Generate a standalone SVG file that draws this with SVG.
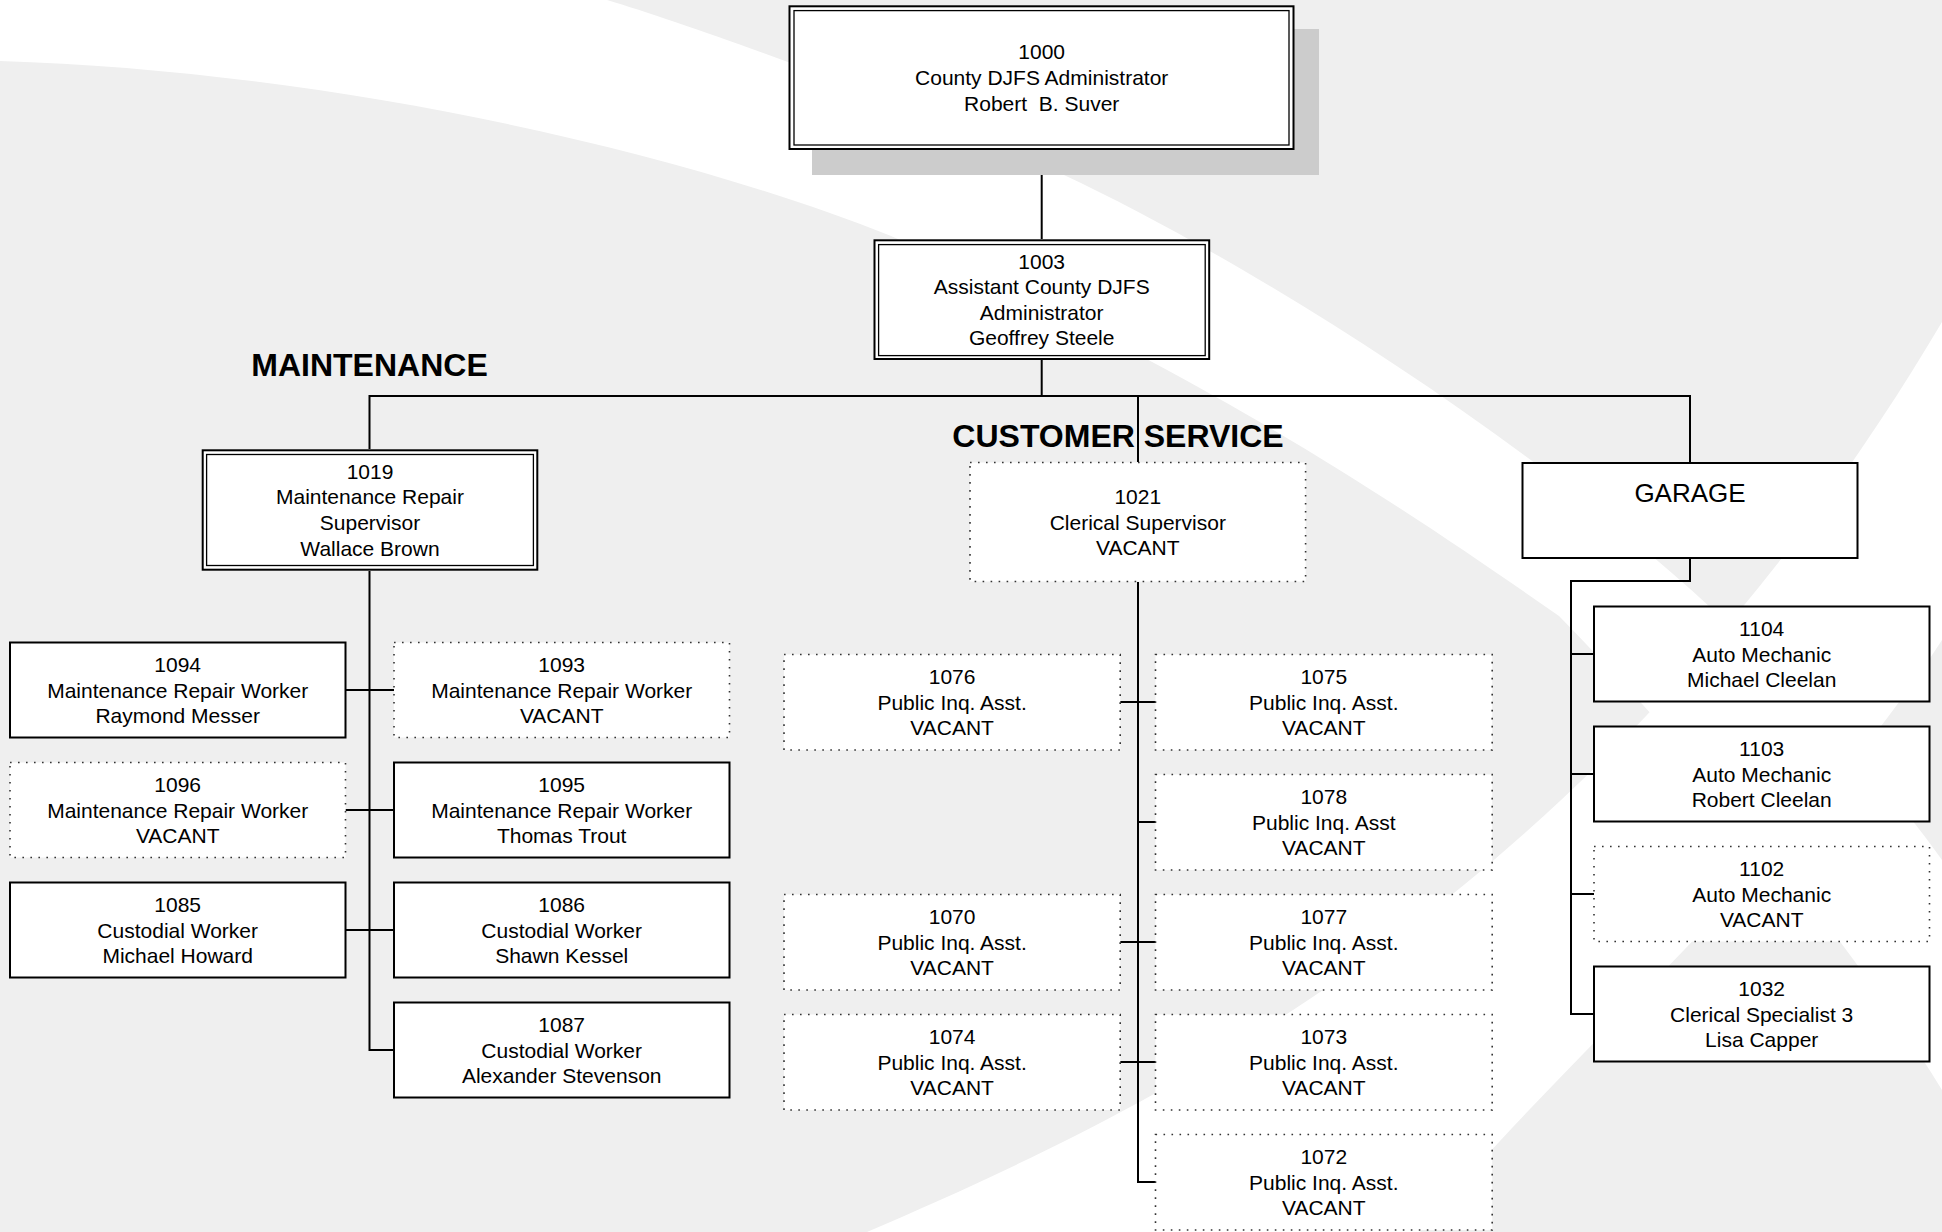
<svg xmlns="http://www.w3.org/2000/svg" width="1942" height="1232" viewBox="0 0 1942 1232">
<defs>
<style>
.bg{fill:#efefef}
.sw{fill:#ffffff}
.sh{fill:#cccccc}
.box{fill:#ffffff;stroke:#000;stroke-width:2}
.dot{fill:#ffffff;stroke:#333;stroke-width:1.6;stroke-dasharray:1.6 6.4}
.in{fill:none;stroke:#000;stroke-width:1.3}
.conn{fill:none;stroke:#000;stroke-width:2}
.t{font-family:"Liberation Sans",Arial,sans-serif;font-size:21px;text-anchor:middle;fill:#000}
.h{font-family:"Liberation Sans",Arial,sans-serif;font-size:32px;font-weight:bold;text-anchor:middle;fill:#000}
.g{font-family:"Liberation Sans",Arial,sans-serif;font-size:26px;text-anchor:middle;fill:#000}
</style>
</defs>
<g id="background">
<rect class="bg" x="0" y="0" width="1942" height="1232"/>
<path class="sw" d="M0,0 L607,0 C700,28 900,100 1064,175 C1250,262 1550,450 1745,640 C1830,722 1900,800 1942,860 L1942,1090 C1850,940 1700,760 1559,616 C1400,505 1200,370 891,236 C650,140 300,70 0,61 Z"/>
<path class="sw" d="M867,1232 C1150,1110 1600,900 1942,322 L1942,640 C1800,860 1560,1060 1420,1232 Z"/>
</g>
<g id="headings">
<text class="h" x="369.5" y="376">MAINTENANCE</text>
<text class="h" x="1118" y="447">CUSTOMER SERVICE</text>
</g>
<g id="connectors">
<path class="conn" d="M1041.7,150 V239"/>
<path class="conn" d="M1041.7,360 V396"/>
<path class="conn" d="M369.5,449 V396 H1690 V462"/>
<path class="conn" d="M1138,396 V462"/>
<path class="conn" d="M369.5,571 V1050 H394"/>
<path class="conn" d="M345.5,690 H394 M345.5,810 H394 M345.5,930 H394"/>
<path class="conn" d="M1138,582 V1182 H1155.5"/>
<path class="conn" d="M1120.2,702 H1155.5 M1138,822 H1155.5 M1120.2,942 H1155.5 M1120.2,1062 H1155.5"/>
<path class="conn" d="M1690,558 V581 H1571 V1014 H1594"/>
<path class="conn" d="M1571,654 H1594 M1571,774 H1594 M1571,894 H1594"/>
</g>
<g id="n1000">
<rect class="sh" x="812" y="29" width="507" height="146"/>
<rect class="box" x="789.5" y="6.3" width="504" height="142.7"/>
<rect class="in" x="794" y="10.6" width="495" height="134.4"/>
<text class="t"><tspan x="1041.7" y="59.4">1000</tspan><tspan x="1041.7" y="85">County DJFS Administrator</tspan><tspan x="1041.7" y="110.6">Robert&#160; B. Suver</tspan></text>
</g>
<g id="n1003">
<rect class="box" x="874.5" y="240.3" width="334.7" height="118.7"/>
<rect class="in" x="878.6" y="244.6" width="326.6" height="111"/>
<text class="t"><tspan x="1041.7" y="268.6">1003</tspan><tspan x="1041.7" y="294.2">Assistant County DJFS</tspan><tspan x="1041.7" y="319.8">Administrator</tspan><tspan x="1041.7" y="345.4">Geoffrey Steele</tspan></text>
</g>
<g id="n1019">
<rect class="box" x="202.7" y="450.3" width="334.6" height="119.4"/>
<rect class="in" x="206.6" y="454.5" width="326.8" height="111"/>
<text class="t"><tspan x="370" y="478.8">1019</tspan><tspan x="370" y="504.4">Maintenance Repair</tspan><tspan x="370" y="530">Supervisor</tspan><tspan x="370" y="555.6">Wallace Brown</tspan></text>
</g>
<g id="n1094">
<rect class="box" x="10" y="642.5" width="335.5" height="95"/>
<text class="t"><tspan x="177.7" y="671.9">1094</tspan><tspan x="177.7" y="697.5">Maintenance Repair Worker</tspan><tspan x="177.7" y="723.1">Raymond Messer</tspan></text>
</g>
<g id="n1093">
<rect class="dot" x="394" y="642.5" width="335.5" height="95"/>
<text class="t"><tspan x="561.7" y="671.9">1093</tspan><tspan x="561.7" y="697.5">Maintenance Repair Worker</tspan><tspan x="561.7" y="723.1">VACANT</tspan></text>
</g>
<g id="n1096">
<rect class="dot" x="10" y="762.5" width="335.5" height="95"/>
<text class="t"><tspan x="177.7" y="791.9">1096</tspan><tspan x="177.7" y="817.5">Maintenance Repair Worker</tspan><tspan x="177.7" y="843.1">VACANT</tspan></text>
</g>
<g id="n1095">
<rect class="box" x="394" y="762.5" width="335.5" height="95"/>
<text class="t"><tspan x="561.7" y="791.9">1095</tspan><tspan x="561.7" y="817.5">Maintenance Repair Worker</tspan><tspan x="561.7" y="843.1">Thomas Trout</tspan></text>
</g>
<g id="n1085">
<rect class="box" x="10" y="882.5" width="335.5" height="95"/>
<text class="t"><tspan x="177.7" y="911.9">1085</tspan><tspan x="177.7" y="937.5">Custodial Worker</tspan><tspan x="177.7" y="963.1">Michael Howard</tspan></text>
</g>
<g id="n1086">
<rect class="box" x="394" y="882.5" width="335.5" height="95"/>
<text class="t"><tspan x="561.7" y="911.9">1086</tspan><tspan x="561.7" y="937.5">Custodial Worker</tspan><tspan x="561.7" y="963.1">Shawn Kessel</tspan></text>
</g>
<g id="n1087">
<rect class="box" x="394" y="1002.5" width="335.5" height="95"/>
<text class="t"><tspan x="561.7" y="1031.9">1087</tspan><tspan x="561.7" y="1057.5">Custodial Worker</tspan><tspan x="561.7" y="1083.1">Alexander Stevenson</tspan></text>
</g>
<g id="n1021">
<rect class="dot" x="970" y="462.5" width="335.6" height="119"/>
<text class="t"><tspan x="1137.8" y="503.9">1021</tspan><tspan x="1137.8" y="529.5">Clerical Supervisor</tspan><tspan x="1137.8" y="555.1">VACANT</tspan></text>
</g>
<g id="n1076">
<rect class="dot" x="784" y="654.5" width="336.2" height="95.5"/>
<text class="t"><tspan x="952.1" y="684">1076</tspan><tspan x="952.1" y="709.6">Public Inq. Asst.</tspan><tspan x="952.1" y="735.2">VACANT</tspan></text>
</g>
<g id="n1075">
<rect class="dot" x="1155.5" y="654.5" width="336.7" height="95.5"/>
<text class="t"><tspan x="1323.8" y="684">1075</tspan><tspan x="1323.8" y="709.6">Public Inq. Asst.</tspan><tspan x="1323.8" y="735.2">VACANT</tspan></text>
</g>
<g id="n1078">
<rect class="dot" x="1155.5" y="774.5" width="336.7" height="95.5"/>
<text class="t"><tspan x="1323.8" y="804">1078</tspan><tspan x="1323.8" y="829.6">Public Inq. Asst</tspan><tspan x="1323.8" y="855.2">VACANT</tspan></text>
</g>
<g id="n1070">
<rect class="dot" x="784" y="894.5" width="336.2" height="95.5"/>
<text class="t"><tspan x="952.1" y="924">1070</tspan><tspan x="952.1" y="949.6">Public Inq. Asst.</tspan><tspan x="952.1" y="975.2">VACANT</tspan></text>
</g>
<g id="n1077">
<rect class="dot" x="1155.5" y="894.5" width="336.7" height="95.5"/>
<text class="t"><tspan x="1323.8" y="924">1077</tspan><tspan x="1323.8" y="949.6">Public Inq. Asst.</tspan><tspan x="1323.8" y="975.2">VACANT</tspan></text>
</g>
<g id="n1074">
<rect class="dot" x="784" y="1014.5" width="336.2" height="95.5"/>
<text class="t"><tspan x="952.1" y="1044">1074</tspan><tspan x="952.1" y="1069.6">Public Inq. Asst.</tspan><tspan x="952.1" y="1095.2">VACANT</tspan></text>
</g>
<g id="n1073">
<rect class="dot" x="1155.5" y="1014.5" width="336.7" height="95.5"/>
<text class="t"><tspan x="1323.8" y="1044">1073</tspan><tspan x="1323.8" y="1069.6">Public Inq. Asst.</tspan><tspan x="1323.8" y="1095.2">VACANT</tspan></text>
</g>
<g id="n1072">
<rect class="dot" x="1155.5" y="1134.5" width="336.7" height="95.5"/>
<text class="t"><tspan x="1323.8" y="1164">1072</tspan><tspan x="1323.8" y="1189.6">Public Inq. Asst.</tspan><tspan x="1323.8" y="1215.2">VACANT</tspan></text>
</g>
<g id="garage">
<rect class="box" x="1522.5" y="463" width="335" height="95"/>
<text class="g" x="1690" y="501.5">GARAGE</text>
</g>
<g id="n1104">
<rect class="box" x="1594" y="606.5" width="335.5" height="95"/>
<text class="t"><tspan x="1761.7" y="635.9">1104</tspan><tspan x="1761.7" y="661.5">Auto Mechanic</tspan><tspan x="1761.7" y="687.1">Michael Cleelan</tspan></text>
</g>
<g id="n1103">
<rect class="box" x="1594" y="726.5" width="335.5" height="95"/>
<text class="t"><tspan x="1761.7" y="755.9">1103</tspan><tspan x="1761.7" y="781.5">Auto Mechanic</tspan><tspan x="1761.7" y="807.1">Robert Cleelan</tspan></text>
</g>
<g id="n1102">
<rect class="dot" x="1594" y="846.5" width="335.5" height="95"/>
<text class="t"><tspan x="1761.7" y="875.9">1102</tspan><tspan x="1761.7" y="901.5">Auto Mechanic</tspan><tspan x="1761.7" y="927.1">VACANT</tspan></text>
</g>
<g id="n1032">
<rect class="box" x="1594" y="966.5" width="335.5" height="95"/>
<text class="t"><tspan x="1761.7" y="995.9">1032</tspan><tspan x="1761.7" y="1021.5">Clerical Specialist 3</tspan><tspan x="1761.7" y="1047.1">Lisa Capper</tspan></text>
</g>
</svg>
